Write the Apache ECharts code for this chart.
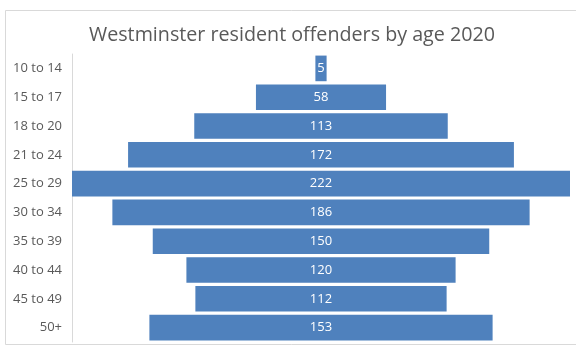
<!DOCTYPE html>
<html>
<head>
<meta charset="utf-8">
<style>
  html, body { margin: 0; padding: 0; background: #ffffff; }
  #chart { width: 576px; height: 348px; }
</style>
<script src="https://cdn.jsdelivr.net/npm/echarts@6/dist/echarts.min.js"></script>
</head>
<body>
<div id="chart"></div>
<script>
// Age bands, top to bottom
var ageBands = ['10 to 14', '15 to 17', '18 to 20', '21 to 24', '25 to 29', '30 to 34', '35 to 39', '40 to 44', '45 to 49', '50+'];
// Number of resident offenders per band
var offenders = [5, 58, 113, 172, 222, 186, 150, 120, 112, 153];

var maxValue = Math.max.apply(null, offenders);
// Transparent lead-in that centres each bar on the axis midpoint
var leadIn = offenders.map(function (v) { return (maxValue - v) / 2; });

var chart = echarts.init(document.getElementById('chart'), null, { renderer: 'canvas' });
var fontFamily = '"Open Sans", "Liberation Sans", sans-serif';

chart.setOption({
  animation: false,
  backgroundColor: '#ffffff',
  title: {
    text: 'Westminster resident offenders by age 2020',
    left: 84,
    top: 20,
    textStyle: { fontFamily: fontFamily, fontSize: 19.7, fontWeight: 'normal', color: '#595959' }
  },
  graphic: [{
    type: 'rect',
    shape: { x: 5.5, y: 10.5, width: 580, height: 334 },
    style: { fill: 'none', stroke: '#d9d9d9', lineWidth: 1 },
    silent: true
  }],
  grid: { left: 72, right: 6, top: 54, bottom: 6, containLabel: false },
  xAxis: {
    type: 'value',
    min: 0,
    max: maxValue,
    show: false
  },
  yAxis: {
    type: 'category',
    data: ageBands,
    inverse: true,
    axisLine: { show: true, lineStyle: { color: '#d9d9d9', width: 1 } },
    axisTick: { show: false },
    axisLabel: { fontFamily: fontFamily, fontSize: 13, color: '#595959', margin: 10 }
  },
  series: [
    {
      type: 'bar',
      stack: 'pyramid',
      data: leadIn,
      itemStyle: { color: 'transparent' },
      silent: true,
      barCategoryGap: '11%'
    },
    {
      type: 'bar',
      stack: 'pyramid',
      data: offenders,
      barCategoryGap: '11%',
      itemStyle: { color: '#4f81bd' },
      label: {
        show: true,
        position: 'inside',
        fontFamily: fontFamily,
        fontSize: 13,
        color: '#ffffff'
      }
    }
  ]
});
</script>
</body>
</html>
